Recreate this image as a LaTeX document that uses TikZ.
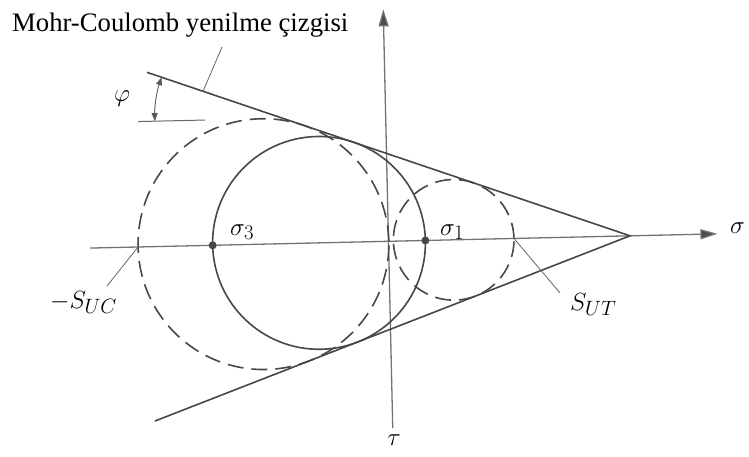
\documentclass[tikz,border=0pt]{standalone}
\usepackage{fontspec}
\setmainfont{Liberation Serif}
\usetikzlibrary{arrows.meta,calc}
\begin{document}
\begin{tikzpicture}[x=1pt,y=1pt,
  curve/.style={line width=1.6pt, draw=black!72},
  dashcurve/.style={curve, dash pattern=on 16pt off 8pt},
  axisline/.style={line width=1.3pt, draw=black!55, -{Triangle[length=17pt,width=10pt,fill=black!70]}},
  leader/.style={line width=0.8pt, draw=black!60},
  mlabel/.style={inner sep=0pt, font=\fontsize{31}{35}\selectfont},
  dot/.style={circle, fill=black!72, inner sep=0pt, minimum size=8pt},
  phiarrow/.style={line width=0.9pt, draw=black!65, {Triangle[length=8pt,width=6pt]}-{Triangle[length=8pt,width=6pt]}}]
\useasboundingbox (0,0) rectangle (749,456);
\begin{scope}[shift={(388.5,214.7)}, rotate=1.3]
  \coordinate (axL) at (-298.5,0);
  \coordinate (axR) at (329,0);
  \coordinate (tauB) at (0,-187);
  \coordinate (tauT) at (0,232);
  \coordinate (V) at (241.6,0);
  \coordinate (U1) at (-237.6,174.4);
  \coordinate (L1) at (-237.6,-174.4);
  \coordinate (SUC) at (-250.5,0);
  \coordinate (SUT) at (125.5,0);
  \coordinate (H1) at (-247.7,125.4);
  \coordinate (H2) at (-180.7,125.4);
  % axes
  \draw[axisline] (axL) -- (axR);
  \draw[axisline] (tauB) -- (tauT);
  % circles
  \draw[dashcurve] (-125.1,0) circle[radius=125.4];
  \draw[dashcurve] (65.2,0) circle[radius=60.3];
  \draw[curve] (-69.5,0) circle[radius=106.4];
  % failure envelope
  \draw[curve] (U1) -- (V) -- (L1);
  % phi
  \draw[line width=1pt, draw=black!60] (H1) -- (H2);
  \draw[phiarrow] (-230.9,125.4) arc[start angle=180, end angle=160, radius=128];
  % points
  \node[dot] (s3) at (-175.9,0) {};
  \node[dot] (s1) at (36.9,0) {};
\end{scope}
\coordinate (MCa) at ($(V)!0.884!(U1)$);
\coordinate (MCb) at (222,409);
\coordinate (SUCb) at (107,170);
\coordinate (SUTb) at (560,163);
\draw[leader] (MCa) -- (MCb);
\draw[leader] (SUC) -- (SUCb);
\draw[leader] (SUT) -- (SUTb);
% labels
\node[anchor=base west, inner sep=0pt, font=\fontsize{26.7}{30}\selectfont] (mc) at (12,424) {Mohr-Coulomb yenilme çizgisi};
\node[mlabel] (phi) at (122,357) {$\varphi$};
\node[mlabel, anchor=base west] (ls3) at (230,221) {$\sigma_3$};
\node[mlabel, anchor=base west] (ls1) at (440,221) {$\sigma_1$};
\node[mlabel, anchor=base west] (lsig) at (730,223) {$\sigma$};
\node[mlabel, anchor=base] (ltau) at (394,11) {$\tau$};
\node[mlabel, anchor=base west] (lsuc) at (50,148) {$-S_{UC}$};
\node[mlabel, anchor=base west] (lsut) at (570,146) {$S_{UT}$};
\end{tikzpicture}
\end{document}
